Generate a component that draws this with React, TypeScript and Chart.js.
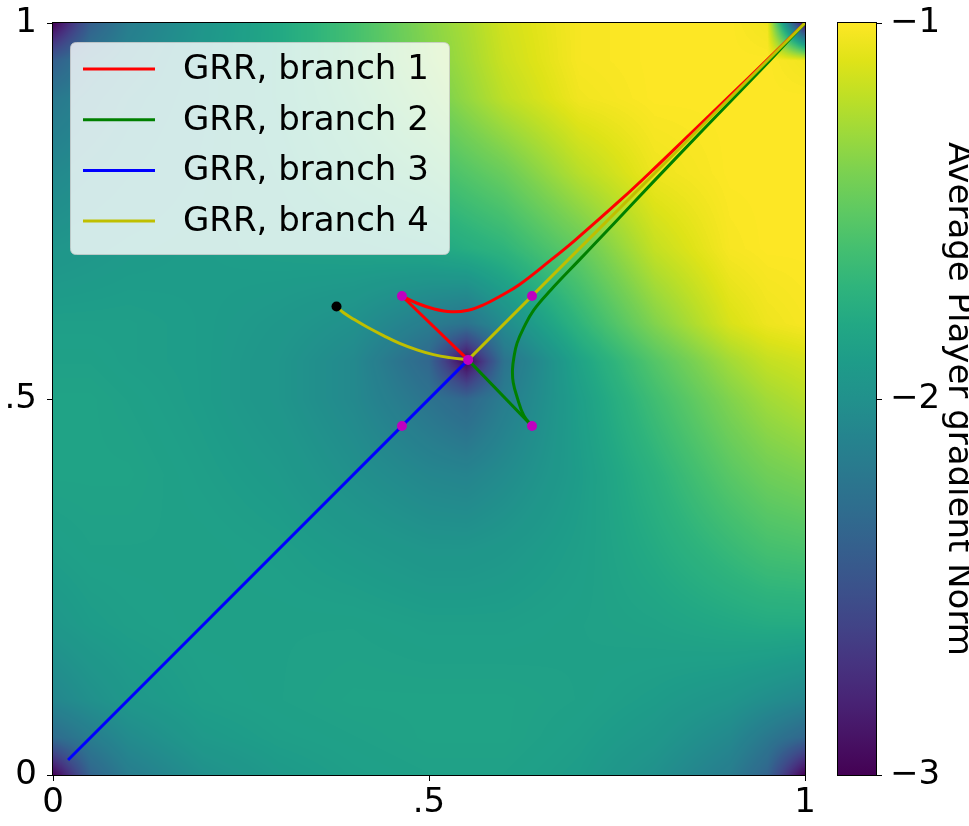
import React, { useEffect, useRef } from 'react';
import { Chart, registerables } from 'chart.js';
Chart.register(...registerables);

const FONT = '"DejaVu Sans"';

// axis ticks
const tickValues = [0, 0.5, 1];
const tickLabels = ['0', '.5', '1'];
const cbMin = -3;
const cbMax = -1;
const cbTickValues = [-3, -2, -1];
const cbTickLabels = ['\u22123', '\u22122', '\u22121'];
const cbTitle = 'Average Player gradient Norm';

// legend
const branchLabels = ['GRR, branch 1', 'GRR, branch 2', 'GRR, branch 3', 'GRR, branch 4'];
const branchColors = ['#ff0000', '#008000', '#0000ff', '#bfbf00'];

// branch 1 (red)
const branch1SegX = [0.552, 0.464];
const branch1SegY = [0.552, 0.637];
const branch1CurveX = [0.464, 0.485, 0.506, 0.530, 0.552, 0.572, 0.595, 0.620, 0.661, 0.694, 0.754, 0.798, 0.851, 0.90, 0.95, 1.0];
const branch1CurveY = [0.637, 0.627, 0.620, 0.616, 0.618, 0.625, 0.637, 0.652, 0.684, 0.711, 0.764, 0.805, 0.856, 0.903, 0.9515, 1.0];

// branch 2 (green)
const branch2SegX = [0.552, 0.637];
const branch2SegY = [0.552, 0.464];
const branch2CurveX = [0.637, 0.626, 0.617, 0.612, 0.611, 0.613, 0.617, 0.626, 0.639, 0.662, 0.699, 0.721, 0.771, 0.828, 0.905, 0.953, 1.0];
const branch2CurveY = [0.464, 0.478, 0.503, 0.522, 0.539, 0.556, 0.574, 0.595, 0.618, 0.645, 0.684, 0.707, 0.760, 0.820, 0.900, 0.950, 1.0];

// branch 3 (blue)
const branch3X = [0.02, 0.552];
const branch3Y = [0.02, 0.552];

// branch 4 (yellow)
const branch4CurveX = [0.377, 0.386, 0.400, 0.417, 0.440, 0.461, 0.485, 0.506, 0.528, 0.552];
const branch4CurveY = [0.623, 0.615, 0.606, 0.596, 0.584, 0.574, 0.565, 0.559, 0.555, 0.552];
const branch4SegX = [0.552, 1.0];
const branch4SegY = [0.552, 1.0];

// markers
const fixedPointX = [0.464, 0.637, 0.552, 0.464, 0.637];
const fixedPointY = [0.637, 0.637, 0.552, 0.464, 0.464];
const startPointX = [0.377];
const startPointY = [0.623];

// background field (log10 of average player gradient norm), rows from y=1 down to y=0
const heatX = [0, 0.05, 0.1, 0.2, 0.3, 0.4, 0.5, 0.55, 0.6, 0.7, 0.8, 0.9, 0.95, 1];
const heatY = [1, 0.95, 0.9, 0.8, 0.7, 0.6, 0.55, 0.5, 0.4, 0.3, 0.2, 0.1, 0.05, 0];
const heatValues = [
  [-3, -2.4, -2.16, -1.96, -1.8, -1.6, -1.36, -1.26, -1.14, -1.02, -1, -1, -1.04, -3],
  [-2.4, -2.2, -2.1, -1.94, -1.8, -1.6, -1.38, -1.28, -1.16, -1.02, -1, -1, -1, -1.04],
  [-2.2, -2.12, -2.04, -1.94, -1.8, -1.64, -1.44, -1.32, -1.2, -1.04, -1, -1, -1, -1],
  [-2.06, -2.02, -1.98, -1.92, -1.84, -1.72, -1.62, -1.54, -1.46, -1.22, -1.05, -1, -1, -1],
  [-1.96, -1.94, -1.92, -1.9, -1.88, -1.86, -1.82, -1.76, -1.7, -1.48, -1.18, -1.02, -1, -1],
  [-1.88, -1.88, -1.88, -1.9, -1.94, -2, -2.16, -2.24, -2.04, -1.7, -1.38, -1.12, -1.05, -1.02],
  [-1.86, -1.86, -1.88, -1.9, -1.96, -2.06, -2.34, -3, -2.24, -1.84, -1.54, -1.28, -1.18, -1.14],
  [-1.84, -1.84, -1.86, -1.9, -1.96, -2.06, -2.24, -2.34, -2.16, -1.88, -1.62, -1.38, -1.28, -1.22],
  [-1.84, -1.84, -1.84, -1.88, -1.92, -2, -2.08, -2.1, -2.04, -1.9, -1.72, -1.52, -1.44, -1.4],
  [-1.88, -1.86, -1.86, -1.86, -1.88, -1.92, -1.96, -1.96, -1.94, -1.88, -1.78, -1.66, -1.6, -1.58],
  [-1.94, -1.9, -1.88, -1.86, -1.86, -1.86, -1.88, -1.88, -1.88, -1.86, -1.84, -1.8, -1.78, -1.78],
  [-2.08, -2, -1.94, -1.88, -1.86, -1.84, -1.84, -1.84, -1.84, -1.86, -1.9, -1.96, -2.02, -2.08],
  [-2.3, -2.16, -2.04, -1.92, -1.88, -1.86, -1.84, -1.84, -1.84, -1.88, -1.94, -2.06, -2.2, -2.34],
  [-3, -2.36, -2.16, -2, -1.92, -1.88, -1.86, -1.86, -1.86, -1.9, -2, -2.16, -2.36, -3],
];

// viridis colormap
const viridisStops = ['#440154', '#471365', '#482475', '#463480', '#414487', '#3b528b', '#355f8d', '#2f6c8e', '#2a788e', '#25848e', '#21918c', '#1e9c89', '#22a884', '#2fb47c', '#44bf70', '#5ec962', '#7ad151', '#9bd93c', '#bddf26', '#dfe318', '#fde725'];

function hexToRgb(h: string) {
  return [parseInt(h.slice(1, 3), 16), parseInt(h.slice(3, 5), 16), parseInt(h.slice(5, 7), 16)];
}
const stopRgb = viridisStops.map(hexToRgb);
const LUT: number[][] = [];
for (let k = 0; k < 256; k++) {
  const t = k / 255;
  const p = t * (stopRgb.length - 1);
  const i = Math.min(Math.floor(p), stopRgb.length - 2);
  const f = p - i;
  LUT.push([0, 1, 2].map((c) => Math.round(stopRgb[i][c] * (1 - f) + stopRgb[i + 1][c] * f)));
}

function sampleHeat(vx: number, vy: number) {
  let i = 0;
  while (i < heatX.length - 2 && vx > heatX[i + 1]) i++;
  let j = 0;
  while (j < heatY.length - 2 && vy < heatY[j + 1]) j++;
  const tx = Math.min(1, Math.max(0, (vx - heatX[i]) / (heatX[i + 1] - heatX[i])));
  const ty = Math.min(1, Math.max(0, (heatY[j] - vy) / (heatY[j] - heatY[j + 1])));
  const a = heatValues[j][i], b = heatValues[j][i + 1], c = heatValues[j + 1][i], d = heatValues[j + 1][i + 1];
  return (a * (1 - tx) + b * tx) * (1 - ty) + (c * (1 - tx) + d * tx) * ty;
}

const pts = (xs: number[], ys: number[]) => xs.map((x, i) => ({ x, y: ys[i] }));

const heatmapPlugin = {
  id: 'heatmap',
  beforeDatasetsDraw(chart: any) {
    const { ctx, chartArea: a, scales } = chart;
    const w = Math.round(a.right - a.left);
    const h = Math.round(a.bottom - a.top);
    const off = document.createElement('canvas');
    off.width = w;
    off.height = h;
    const octx = off.getContext('2d')!;
    const img = octx.createImageData(w, h);
    const xs: number[] = [];
    for (let i = 0; i < w; i++) xs.push(scales.x.getValueForPixel(a.left + i + 0.5));
    for (let j = 0; j < h; j++) {
      const vy = scales.y.getValueForPixel(a.top + j + 0.5);
      for (let i = 0; i < w; i++) {
        const v = sampleHeat(xs[i], vy);
        const t = Math.min(1, Math.max(0, (v - cbMin) / (cbMax - cbMin)));
        const col = LUT[Math.round(t * 255)];
        const o = (j * w + i) * 4;
        img.data[o] = col[0];
        img.data[o + 1] = col[1];
        img.data[o + 2] = col[2];
        img.data[o + 3] = 255;
      }
    }
    octx.putImageData(img, 0, 0);
    ctx.drawImage(off, a.left, a.top);
  },
};

const framePlugin = {
  id: 'frame',
  afterDraw(chart: any) {
    const { ctx, chartArea: a } = chart;
    ctx.save();
    ctx.strokeStyle = '#000';
    ctx.lineWidth = 1;
    ctx.strokeRect(Math.round(a.left) - 0.5, Math.round(a.top) - 0.5, Math.round(a.right - a.left) + 1, Math.round(a.bottom - a.top) + 1);
    ctx.restore();
  },
};

const legendPlugin = {
  id: 'customLegend',
  afterDraw(chart: any) {
    const { ctx, chartArea: a } = chart;
    const bx = a.left + 17.5, by = a.top + 19.5, bw = 379, bh = 212, r = 6;
    ctx.save();
    ctx.beginPath();
    ctx.moveTo(bx + r, by);
    ctx.lineTo(bx + bw - r, by);
    ctx.quadraticCurveTo(bx + bw, by, bx + bw, by + r);
    ctx.lineTo(bx + bw, by + bh - r);
    ctx.quadraticCurveTo(bx + bw, by + bh, bx + bw - r, by + bh);
    ctx.lineTo(bx + r, by + bh);
    ctx.quadraticCurveTo(bx, by + bh, bx, by + bh - r);
    ctx.lineTo(bx, by + r);
    ctx.quadraticCurveTo(bx, by, bx + r, by);
    ctx.closePath();
    ctx.fillStyle = 'rgba(255,255,255,0.8)';
    ctx.fill();
    ctx.strokeStyle = 'rgba(204,204,204,0.8)';
    ctx.lineWidth = 1;
    ctx.stroke();
    ctx.font = `34px ${FONT}`;
    ctx.textBaseline = 'middle';
    ctx.textAlign = 'left';
    branchLabels.forEach((label, i) => {
      const y = a.top + 46 + i * 50.7;
      ctx.strokeStyle = branchColors[i];
      ctx.lineWidth = 3;
      ctx.beginPath();
      ctx.moveTo(a.left + 30, y);
      ctx.lineTo(a.left + 102, y);
      ctx.stroke();
      ctx.fillStyle = '#000';
      ctx.fillText(label, a.left + 130, y + 1);
    });
    ctx.restore();
  },
};

const cbOutlinePlugin = {
  id: 'cbOutline',
  afterDraw(chart: any) {
    const { ctx, chartArea: a } = chart;
    ctx.save();
    ctx.strokeStyle = '#000';
    ctx.lineWidth = 1;
    ctx.strokeRect(Math.round(a.left) - 0.5, Math.round(a.top) - 0.5, Math.round(a.right - a.left) + 1, Math.round(a.bottom - a.top) + 1);
    ctx.restore();
  },
};

function lineDs(data: any[], color: string, tension: number, order: number) {
  return {
    data,
    showLine: true,
    borderColor: color,
    backgroundColor: color,
    borderWidth: 3,
    pointRadius: 0,
    tension,
    fill: false,
    order,
  };
}

export default function App() {
  const mainRef = useRef<HTMLCanvasElement>(null);
  const cbRef = useRef<HTMLCanvasElement>(null);

  useEffect(() => {
    document.body.style.margin = '0';
    const tickFont = { family: FONT, size: 34 };
    const main = new Chart(mainRef.current!, {
      type: 'scatter',
      data: {
        datasets: [
          { data: pts(fixedPointX, fixedPointY), pointRadius: 5, pointBackgroundColor: '#bf00bf', pointBorderWidth: 0, showLine: false, order: 0 } as any,
          { data: pts(startPointX, startPointY), pointRadius: 5, pointBackgroundColor: '#000000', pointBorderWidth: 0, showLine: false, order: 0 } as any,
          lineDs(pts(branch4CurveX, branch4CurveY), branchColors[3], 0.4, 1),
          lineDs(pts(branch4SegX, branch4SegY), branchColors[3], 0, 1),
          lineDs(pts(branch3X, branch3Y), branchColors[2], 0, 2),
          lineDs(pts(branch2SegX, branch2SegY), branchColors[1], 0, 3),
          lineDs(pts(branch2CurveX, branch2CurveY), branchColors[1], 0.4, 3),
          lineDs(pts(branch1SegX, branch1SegY), branchColors[0], 0, 4),
          lineDs(pts(branch1CurveX, branch1CurveY), branchColors[0], 0.4, 4),
        ],
      },
      options: {
        responsive: false,
        animation: false,
        devicePixelRatio: 1,
        events: [],
        layout: { padding: { left: 0, top: 23, right: 15, bottom: 0 } },
        plugins: { legend: { display: false }, tooltip: { enabled: false } },
        scales: {
          x: {
            type: 'linear',
            min: 0,
            max: 1,
            position: 'bottom',
            afterBuildTicks: (s: any) => { s.ticks = tickValues.map((v) => ({ value: v })); },
            afterFit: (s: any) => { s.height = 51; s.paddingLeft = 0; s.paddingRight = 0; },
            ticks: { callback: (_v: any, i: number) => tickLabels[i], font: tickFont, color: '#000', padding: 2, maxRotation: 0, autoSkip: false },
            grid: { drawOnChartArea: false, drawTicks: true, tickLength: 6, color: '#000', lineWidth: 1 },
            border: { display: false },
          },
          y: {
            type: 'linear',
            min: 0,
            max: 1,
            position: 'left',
            afterBuildTicks: (s: any) => { s.ticks = tickValues.map((v) => ({ value: v })); },
            afterFit: (s: any) => { s.width = 53; s.paddingTop = 0; s.paddingBottom = 0; },
            ticks: { callback: (_v: any, i: number) => tickLabels[i], font: tickFont, color: '#000', padding: 10, autoSkip: false },
            grid: { drawOnChartArea: false, drawTicks: true, tickLength: 6, color: '#000', lineWidth: 1 },
            border: { display: false },
          },
        },
      } as any,
      plugins: [heatmapPlugin, framePlugin, legendPlugin],
    });

    const cb = new Chart(cbRef.current!, {
      type: 'bar',
      data: {
        labels: [''],
        datasets: [
          {
            data: [[cbMin, cbMax]] as any,
            backgroundColor: (c: any) => {
              const ch = c.chart;
              if (!ch.chartArea) return viridisStops[10];
              const ys = ch.scales.y;
              const g = ch.ctx.createLinearGradient(0, ys.getPixelForValue(cbMin), 0, ys.getPixelForValue(cbMax));
              viridisStops.forEach((col, i) => g.addColorStop(i / (viridisStops.length - 1), col));
              return g;
            },
            borderWidth: 0,
            barPercentage: 1,
            categoryPercentage: 1,
          },
        ],
      },
      options: {
        responsive: false,
        animation: false,
        devicePixelRatio: 1,
        events: [],
        layout: { padding: { left: 18, top: 23, right: 0, bottom: 51 } },
        plugins: { legend: { display: false }, tooltip: { enabled: false } },
        scales: {
          x: { display: false },
          y: {
            position: 'right',
            min: cbMin,
            max: cbMax,
            afterBuildTicks: (s: any) => { s.ticks = cbTickValues.map((v) => ({ value: v })); },
            afterFit: (s: any) => { s.width = 93; s.paddingTop = 0; s.paddingBottom = 0; },
            ticks: { callback: (_v: any, i: number) => cbTickLabels[i], font: tickFont, color: '#000', padding: 8, autoSkip: false },
            grid: { drawOnChartArea: false, drawTicks: true, tickLength: 6, color: '#000', lineWidth: 1 },
            border: { display: false },
            title: { display: true, text: cbTitle, color: '#000', font: { family: FONT, size: 34, lineHeight: 0.65 }, padding: 0 },
          },
        },
      } as any,
      plugins: [cbOutlinePlugin],
    });

    return () => {
      main.destroy();
      cb.destroy();
    };
  }, []);

  return (
    <div style={{ position: 'relative', width: 969, height: 826, background: '#fff', overflow: 'hidden' }}>
      <canvas ref={mainRef} width={820} height={826} style={{ position: 'absolute', left: 0, top: 0 }} />
      <canvas ref={cbRef} width={149} height={826} style={{ position: 'absolute', left: 820, top: 0 }} />
    </div>
  );
}
